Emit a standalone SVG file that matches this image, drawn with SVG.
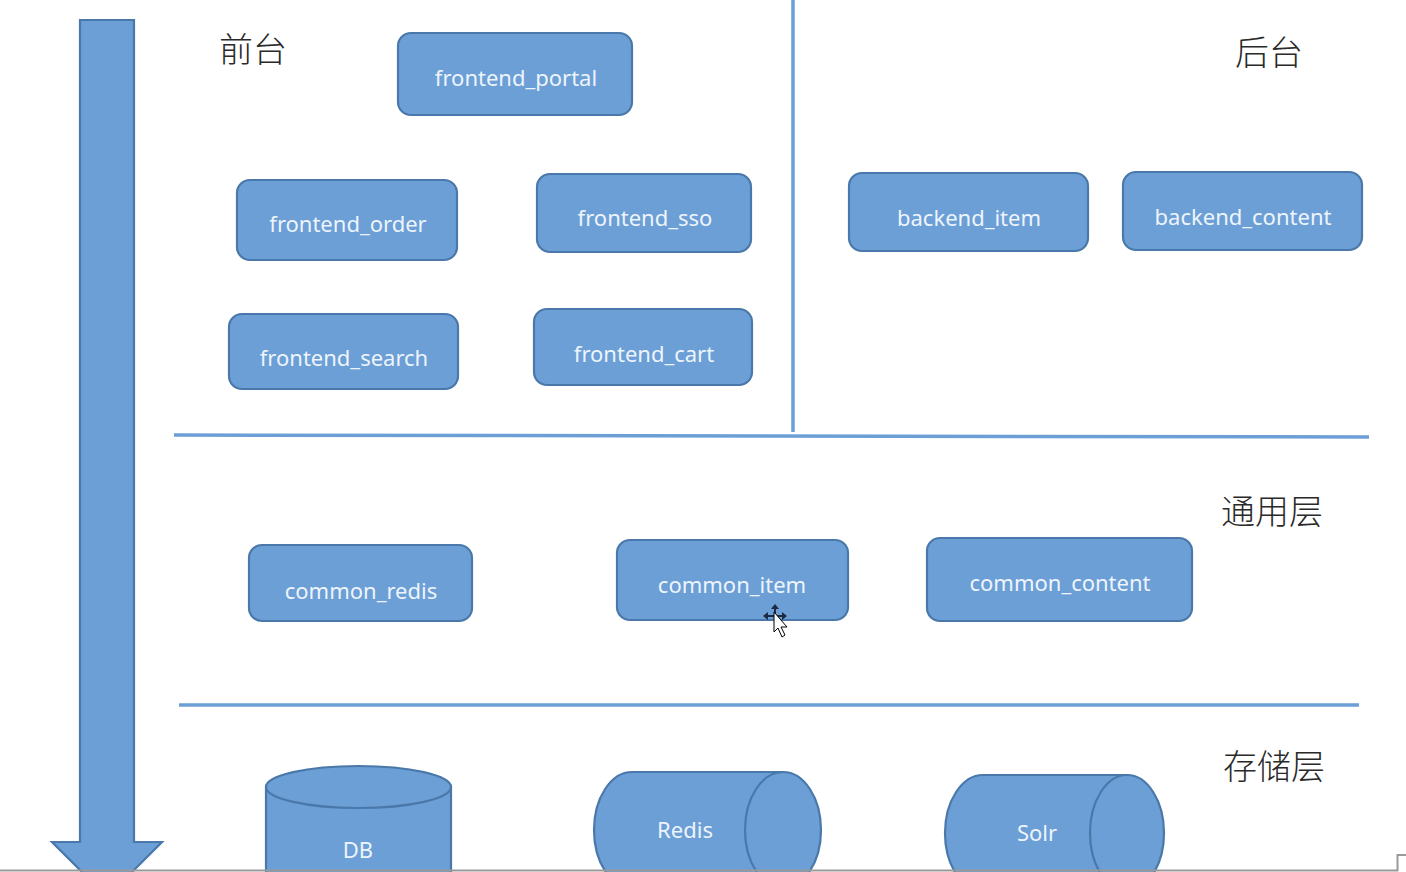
<svg xmlns="http://www.w3.org/2000/svg" width="1406" height="872" viewBox="0 0 1406 872">
  <defs>
    <style>
      .box { fill: #6b9fd6; stroke: #4a78aa; stroke-width: 2.2; }
      .lbl { font-family: "Noto Sans", "Open Sans", sans-serif; font-size: 22px; fill: #eef4fb; text-anchor: middle; dominant-baseline: central; }
      .zone { font-family: "Noto Sans CJK SC", sans-serif; font-size: 34px; font-weight: 300; fill: #2a2a2a; }
      .rule { stroke: #6b9fd6; stroke-width: 3.5; fill: none; }
    </style>
  </defs>
  <rect width="1406" height="872" fill="#ffffff"/>

  <!-- flow direction arrow -->
  <g id="flow-arrow">
    <path class="box" d="M80,20 H134 V842 H162 L107,897 L52,842 H80 Z"/>
  </g>

  <!-- layer separators -->
  <g id="connectors">
    <line class="rule" x1="793" y1="0" x2="793" y2="432"/>
    <line class="rule" x1="174" y1="435" x2="1369" y2="437"/>
    <line class="rule" x1="179" y1="705" x2="1359" y2="705"/>
  </g>

  <!-- layer titles -->
  <text class="zone" x="219" y="62">前台</text>
  <text class="zone" x="1235" y="65">后台</text>
  <text class="zone" x="1221" y="524">通用层</text>
  <text class="zone" x="1223" y="779">存储层</text>

  <!-- front-end modules -->
  <g id="frontend_portal">
    <rect class="box" x="398" y="33" width="234" height="82" rx="13"/>
    <text class="lbl" x="516" y="77">frontend_portal</text>
  </g>
  <g id="frontend_order">
    <rect class="box" x="237" y="180" width="220" height="80" rx="13"/>
    <text class="lbl" x="348" y="223">frontend_order</text>
  </g>
  <g id="frontend_sso">
    <rect class="box" x="537" y="174" width="214" height="78" rx="13"/>
    <text class="lbl" x="645" y="217">frontend_sso</text>
  </g>
  <g id="frontend_search">
    <rect class="box" x="229" y="314" width="229" height="75" rx="13"/>
    <text class="lbl" x="344" y="357">frontend_search</text>
  </g>
  <g id="frontend_cart">
    <rect class="box" x="534" y="309" width="218" height="76" rx="13"/>
    <text class="lbl" x="644" y="353">frontend_cart</text>
  </g>

  <!-- back-end modules -->
  <g id="backend_item">
    <rect class="box" x="849" y="173" width="239" height="78" rx="13"/>
    <text class="lbl" x="969" y="217">backend_item</text>
  </g>
  <g id="backend_content">
    <rect class="box" x="1123" y="172" width="239" height="78" rx="13"/>
    <text class="lbl" x="1243" y="216">backend_content</text>
  </g>

  <!-- common layer -->
  <g id="common_redis">
    <rect class="box" x="249" y="545" width="223" height="76" rx="13"/>
    <text class="lbl" x="361" y="590">common_redis</text>
  </g>
  <g id="common_item">
    <rect class="box" x="617" y="540" width="231" height="80" rx="13"/>
    <text class="lbl" x="732" y="584">common_item</text>
  </g>
  <g id="common_content">
    <rect class="box" x="927" y="538" width="265" height="83" rx="13"/>
    <text class="lbl" x="1060" y="582">common_content</text>
  </g>

  <!-- storage layer -->
  <g id="db">
    <path class="box" d="M266,787 V900 H451 V787"/>
    <ellipse class="box" cx="358.5" cy="787" rx="92.5" ry="21"/>
    <text class="lbl" x="358" y="849">DB</text>
  </g>
  <g id="redis">
    <path class="box" d="M783,772 H632 A38,58 0 0 0 632,888 H783"/>
    <ellipse class="box" cx="783" cy="830" rx="38" ry="58"/>
    <text class="lbl" x="685" y="829">Redis</text>
  </g>
  <g id="solr">
    <path class="box" d="M1127,775 H983 A38,58 0 0 0 983,891 H1127"/>
    <ellipse class="box" cx="1127" cy="833" rx="37" ry="58"/>
    <text class="lbl" x="1037" y="832">Solr</text>
  </g>

  <!-- pointer -->
  <g id="pointer">
    <path d="M775,604 L771,609 H774 V615 H768 V612 L763,616 L768,620 V617 H774 V620 H776 V617 H782 V620 L787,616 L782,612 V615 H776 V609 H779 Z" fill="#1c2a44"/>
    <path d="M774,612 V632 L778,628 L782,637 L785,635 L781,627 L787,627 Z" fill="#ffffff" stroke="#000000" stroke-width="1"/>
  </g>

  <!-- window frame edge -->
  <path d="M0,870.5 H1397.5 V855 H1406" fill="none" stroke="#9a9a9a" stroke-width="2"/>
</svg>
